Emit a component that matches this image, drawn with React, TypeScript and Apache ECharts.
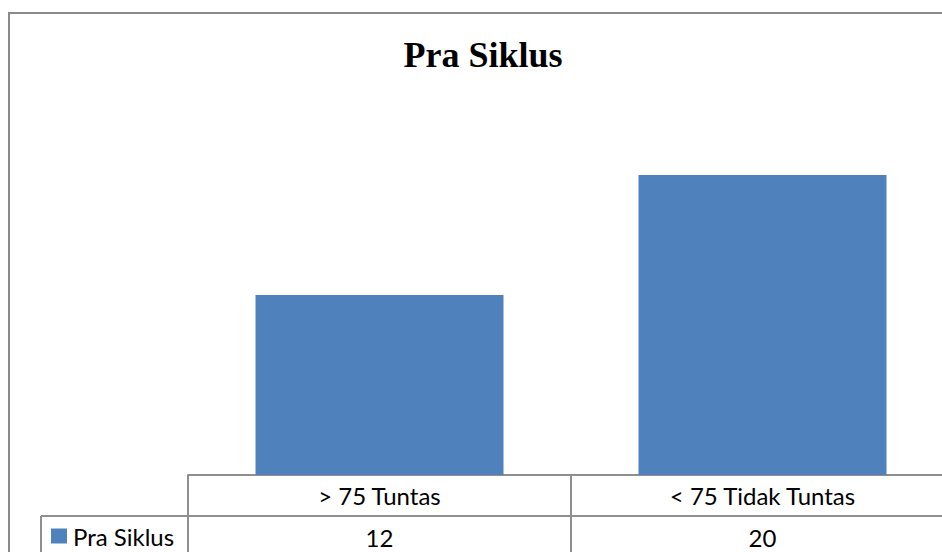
import React, { useEffect, useRef } from "react";
import * as echarts from "echarts";

const categories = ["> 75 Tuntas", "< 75 Tidak Tuntas"];
const seriesName = "Pra Siklus";
const values = [12, 20];
const chartTitle = "Pra Siklus";

export default function App() {
  const ref = useRef<HTMLDivElement>(null);
  useEffect(() => {
    if (!ref.current) return;
    const chart = echarts.init(ref.current, null, { renderer: "svg" });
    const lineColor = "#8f8f8f";
    const font = "Lato";
    const fs = 24;
    chart.setOption({
      animation: false,
      title: {
        text: chartTitle,
        left: 483,
        textAlign: "center",
        top: 37,
        padding: 0,
        textStyle: {
          fontFamily: "Liberation Serif",
          fontWeight: "bold",
          fontSize: 36,
          color: "#000",
        },
      },
      legend: {
        data: [seriesName],
        left: 51,
        top: 524,
        padding: 0,
        icon: "rect",
        itemWidth: 16,
        itemHeight: 15,
        itemGap: 0,
        textStyle: { fontFamily: font, fontSize: fs, color: "#000", lineHeight: 24, padding: [0, 0, 0, 1] },
      },
      grid: { left: 188, right: 6, top: 100, bottom: 77 },
      xAxis: [
        {
          type: "category",
          data: categories,
          position: "bottom",
          axisLine: { show: true, lineStyle: { color: lineColor, width: 2 } },
          axisTick: { show: true, length: 90, lineStyle: { color: lineColor, width: 2 } },
          axisLabel: { margin: 8, fontFamily: font, fontSize: fs, lineHeight: 24, color: "#000" },
          splitLine: { show: false },
        },
        {
          type: "category",
          data: values.map((v) => String(v)),
          position: "bottom",
          offset: 41,
          axisLine: { show: false },
          axisTick: { show: false },
          axisLabel: { margin: 9, fontFamily: font, fontSize: fs, lineHeight: 24, color: "#000" },
        },
      ],
      yAxis: {
        type: "value",
        min: 0,
        max: 25,
        show: false,
        splitLine: { show: false },
      },
      series: [
        {
          name: seriesName,
          type: "bar",
          data: values,
          barWidth: 248,
          itemStyle: { color: "#4F81BD" },
          xAxisIndex: 0,
        },
      ],
      graphic: [
        {
          type: "rect",
          shape: { x: 9, y: 13, width: 1100, height: 700 },
          style: { fill: "none", stroke: "#8a8a8a", lineWidth: 2 },
          silent: true,
        },
        {
          type: "line",
          shape: { x1: 41, y1: 516, x2: 960, y2: 516 },
          style: { stroke: lineColor, lineWidth: 2 },
          silent: true,
        },
        {
          type: "line",
          shape: { x1: 41, y1: 516, x2: 41, y2: 560 },
          style: { stroke: lineColor, lineWidth: 2 },
          silent: true,
        },
      ],
    });
    return () => chart.dispose();
  }, []);
  return (
    <div style={{ position: "fixed", left: 0, top: 0, width: 942, height: 552, overflow: "hidden", background: "#fff" }}>
      <div ref={ref} style={{ width: 960, height: 552 }} />
    </div>
  );
}
